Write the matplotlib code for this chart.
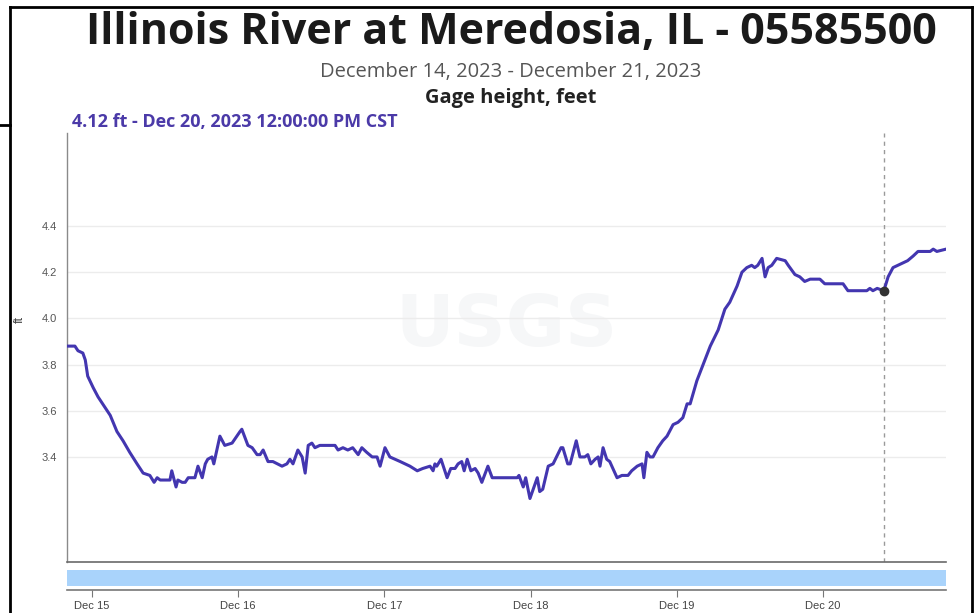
import matplotlib
matplotlib.use("Agg")
import matplotlib.pyplot as plt
from matplotlib.lines import Line2D
import numpy as np

# Gage height readings: hours since Dec 14, 2023 00:00 CST, and stage in feet
hours_cst = [
    22.0, 23.2, 23.7, 24.5, 24.9, 25.3, 26.2, 27.0, 28.5, 29.0, 30.1, 31.1, 32.2,
    33.4, 34.4, 35.5, 36.2, 36.7, 37.2, 38.8, 39.1, 39.8, 40.1, 40.8, 41.3, 41.8,
    42.9, 43.4, 44.1, 44.6, 45.0, 45.7, 46.0, 47.0, 47.8, 49.0, 50.3, 50.6, 51.6,
    52.3, 53.1, 53.6, 54.1, 54.9, 55.7, 57.2, 58.0, 58.5, 59.0, 59.8, 60.5, 61.0,
    61.5, 62.1, 62.6, 63.4, 65.9, 66.4, 67.2, 68.0, 68.8, 69.7, 70.3, 71.1, 72.0,
    72.8, 73.3, 74.1, 74.9, 76.6, 78.2, 79.4, 80.3, 81.5, 82.0, 82.3, 82.6, 83.3,
    84.3, 84.9, 85.6, 86.1, 86.7, 87.1, 87.6, 88.2, 88.9, 89.4, 90.0, 91.0, 91.7,
    93.0, 94.1, 95.8, 96.1, 96.8, 97.2, 97.9, 99.1, 99.5, 100.0, 100.9, 101.7,
    103.0, 103.3, 104.1, 104.5, 105.5, 106.1, 106.9, 107.4, 107.9, 108.6, 109.1,
    109.4, 109.9, 110.5, 111.0, 112.2, 113.0, 114.0, 114.6, 115.5, 116.3, 116.6,
    117.1, 117.6, 118.1, 118.9, 119.7, 120.4, 121.4, 122.2, 123.0, 123.7, 124.2,
    125.3, 127.5, 128.8, 129.9, 130.7, 131.9, 132.7, 133.5, 134.3, 134.8, 135.3,
    136.0, 136.5, 137.0, 137.6, 138.4, 139.8, 140.3, 141.4, 142.2, 143.0, 143.9,
    144.7, 145.5, 146.3, 147.6, 148.3, 148.8, 149.3, 150.1, 153.2, 153.7, 154.2,
    154.9, 156.0, 156.7, 157.5, 158.3, 159.1, 159.9, 160.8, 161.6, 163.6, 164.1,
    164.7, 166.2,
]
gage_ft = [
    3.88, 3.88, 3.86, 3.85, 3.82, 3.75, 3.70, 3.66, 3.60, 3.58, 3.51, 3.47, 3.42,
    3.37, 3.33, 3.32, 3.29, 3.31, 3.30, 3.30, 3.34, 3.27, 3.30, 3.29, 3.29, 3.31,
    3.31, 3.36, 3.31, 3.37, 3.39, 3.40, 3.37, 3.49, 3.45, 3.46, 3.51, 3.52, 3.45,
    3.44, 3.41, 3.41, 3.43, 3.38, 3.38, 3.36, 3.37, 3.39, 3.37, 3.43, 3.40, 3.33,
    3.45, 3.46, 3.44, 3.45, 3.45, 3.43, 3.44, 3.43, 3.44, 3.41, 3.44, 3.42, 3.40,
    3.40, 3.36, 3.44, 3.40, 3.38, 3.36, 3.34, 3.35, 3.36, 3.34, 3.37, 3.36, 3.39,
    3.31, 3.35, 3.35, 3.37, 3.38, 3.34, 3.39, 3.34, 3.35, 3.33, 3.29, 3.36, 3.31,
    3.31, 3.31, 3.31, 3.32, 3.27, 3.31, 3.22, 3.31, 3.25, 3.26, 3.36, 3.37,
    3.44, 3.44, 3.37, 3.37, 3.47, 3.40, 3.40, 3.41, 3.37, 3.39, 3.40,
    3.36, 3.44, 3.39, 3.38, 3.31, 3.32, 3.32, 3.34, 3.36, 3.37, 3.31,
    3.42, 3.40, 3.40, 3.44, 3.47, 3.49, 3.54, 3.55, 3.57, 3.63, 3.63,
    3.73, 3.88, 3.95, 4.04, 4.07, 4.14, 4.20, 4.22, 4.23, 4.22, 4.23,
    4.26, 4.18, 4.22, 4.23, 4.26, 4.25, 4.23, 4.19, 4.18, 4.16, 4.17,
    4.17, 4.17, 4.15, 4.15, 4.15, 4.15, 4.15, 4.12, 4.12, 4.13, 4.12,
    4.13, 4.12, 4.18, 4.22, 4.23, 4.24, 4.25, 4.27, 4.29, 4.29, 4.30,
    4.29, 4.30,
]

# Highlighted reading
hover_hour = 156.0
hover_ft = 4.12
hover_label = "4.12 ft - Dec 20, 2023 12:00:00 PM CST"

# Day ticks fall on Pacific midnight (02:00 CST)
tick_hours = [26, 50, 74, 98, 122, 146]
tick_labels = ["Dec 15", "Dec 16", "Dec 17", "Dec 18", "Dec 19", "Dec 20"]
y_ticks = [3.4, 3.6, 3.8, 4.0, 4.2, 4.4]

title = "Illinois River at Meredosia, IL - 05585500"
subtitle = "December 14, 2023 - December 21, 2023"
param_name = "Gage height, feet"

LINE = "#4336b0"
W, H = 978, 613

fig = plt.figure(figsize=(W / 100, H / 100), dpi=100)
fig.patch.set_facecolor("white")


def fx(x):
    return x / W


def fy(y):
    return 1 - y / H


small_font = ["Liberation Sans Narrow", "Liberation Sans", "DejaVu Sans"]

# Main chart area
ax = fig.add_axes([fx(67), fy(562), fx(946) - fx(67), fy(133) - fy(562)])
xmin, xmax = 21.9, 166.2
ax.set_xlim(xmin, xmax)
ax.set_ylim(2.945, 4.803)

# Faint watermark
ax.text(0.5, 0.55, "USGS", transform=ax.transAxes, ha="center", va="center",
        fontsize=52, fontweight="bold", color="#f6f7f8", family="Liberation Sans Narrow",
        zorder=0)

ax.plot(hours_cst, gage_ft, color=LINE, lw=2.2, solid_joinstyle="round", zorder=3)
ax.axvline(hover_hour, color="#9a9a9a", lw=1, ls=(0, (3, 3)), zorder=2)
ax.plot([hover_hour], [hover_ft], "o", ms=6, color="#333333", zorder=4)

ax.set_yticks(y_ticks)
ax.set_yticklabels([f"{v:.1f}" for v in y_ticks], family=small_font, fontsize=8,
                   color="#555555")
ax.yaxis.grid(True, color="#ececec", lw=1)
ax.set_axisbelow(True)
ax.tick_params(axis="y", length=0, pad=7)
ax.set_xticks([])
for side in ("top", "right"):
    ax.spines[side].set_visible(False)
ax.spines["left"].set_color("#8a8a8a")
ax.spines["bottom"].set_color("#6a6a6a")
ax.spines["left"].set_linewidth(1)
ax.spines["bottom"].set_linewidth(1.2)
ax.set_ylabel("ft", family=small_font, fontsize=9, color="#444444")
ax.yaxis.set_label_coords((26 - 67) / 879, 0.565)

# Navigator strip with the day axis below it
nav = fig.add_axes([fx(67), fy(590), fx(946) - fx(67), fy(566) - fy(590)])
nav.set_xlim(xmin, xmax)
nav.set_ylim(0, 1)
nav.axhspan(0.17, 0.83, color="#a9d3fb", lw=0)
for side in ("top", "right", "left"):
    nav.spines[side].set_visible(False)
nav.spines["bottom"].set_color("#777777")
nav.spines["bottom"].set_linewidth(1.2)
nav.set_yticks([])
nav.set_xticks(tick_hours)
nav.set_xticklabels(tick_labels, family=small_font, fontsize=8, color="#444444")
nav.tick_params(axis="x", length=5, color="#777777", pad=3)

# Titles
fig.text(fx(511), fy(33), title, ha="center", va="center", fontsize=31,
         fontweight="bold", family="Open Sans", color="#1a1a1a")
fig.text(fx(511), fy(72), subtitle, ha="center", va="center", fontsize=14.5,
         family="Open Sans", color="#555555")
fig.text(fx(511), fy(98), param_name, ha="center", va="center", fontsize=14.5,
         fontweight="bold", family="Open Sans", color="#222222")
fig.text(fx(72), fy(122), hover_label, ha="left", va="center", fontsize=13,
         fontweight="bold", family="Open Sans", color="#4b3aa8")

# Page frame
frame = dict(color="black", lw=2, transform=fig.transFigure)
fig.add_artist(Line2D([fx(10), fx(972)], [fy(7), fy(7)], **frame))
fig.add_artist(Line2D([fx(10), fx(10)], [fy(7), fy(613)], **frame))
fig.add_artist(Line2D([fx(972), fx(972)], [fy(7), fy(613)], **frame))
fig.add_artist(Line2D([fx(0), fx(10)], [fy(125), fy(125)], **frame))

fig.savefig("out.png", dpi=100, facecolor="white")
